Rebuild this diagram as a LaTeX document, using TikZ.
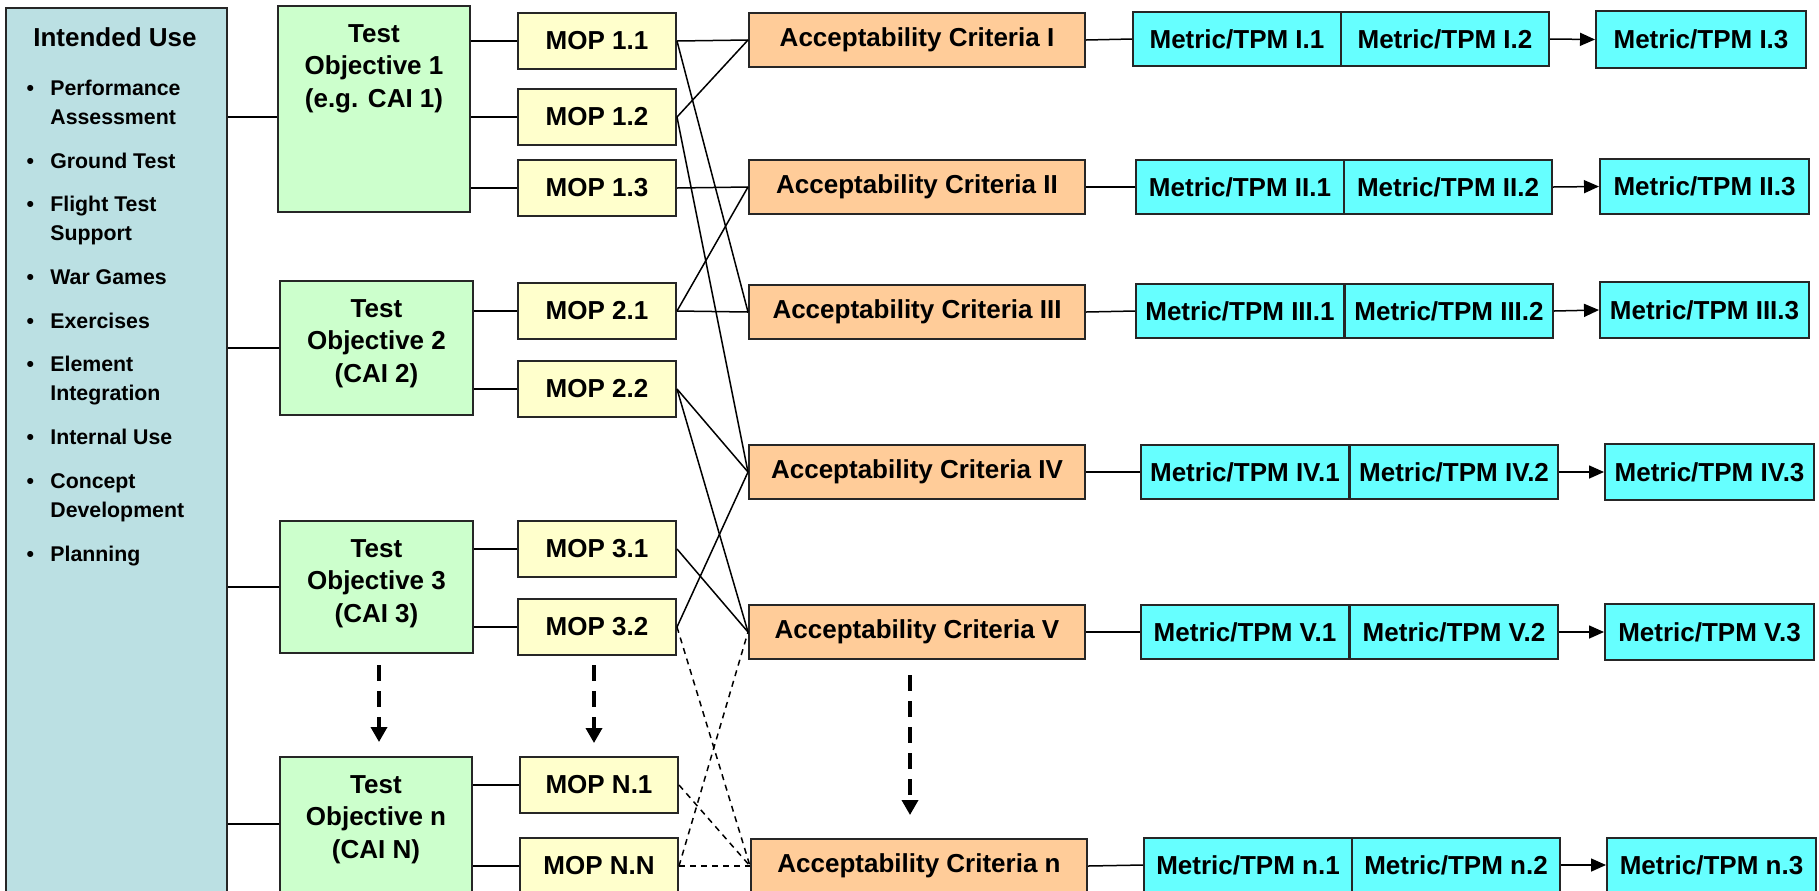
\documentclass[tikz,border=0pt]{standalone}
\usepackage{fontspec}
\setmainfont{Liberation Sans}
\usetikzlibrary{arrows.meta}

\definecolor{iublue}{RGB}{187,224,227}
\definecolor{togreen}{RGB}{204,255,204}
\definecolor{mopyellow}{RGB}{255,255,204}
\definecolor{acorange}{RGB}{255,204,153}
\definecolor{metcyan}{RGB}{102,255,255}

\tikzset{
  cellbox/.style={draw=black!85, line width=1pt, inner sep=0pt, anchor=north west,
    font=\bfseries\fontsize{13}{16.25}\selectfont, align=center},
  iubox/.style={cellbox, fill=iublue},
  tobox/.style={cellbox, fill=togreen},
  mopbox/.style={cellbox, fill=mopyellow, minimum width=79pt, minimum height=28pt},
  acbox/.style={cellbox, fill=acorange, minimum width=168pt, minimum height=27pt},
  metbox/.style={cellbox, fill=metcyan, minimum width=104pt, minimum height=27pt},
  tolabel/.style={anchor=north, yshift=-9.5pt, inner sep=0pt, align=center,
    font=\bfseries\fontsize{13}{16.25}\selectfont},
  % items are placed by the baseline of their last line
  useitem/.style={anchor=base west, inner sep=0pt, align=left,
    font=\bfseries\fontsize{10.65}{14.4}\selectfont},
  conn/.style={line width=0.75pt},
  dconn/.style={line width=0.75pt, dash pattern=on 3pt off 2.5pt},
  flow/.style={line width=0.75pt, -{Triangle[length=7.5pt,width=6.5pt]}},
  skiparrow/.style={line width=1.75pt, dash pattern=on 8pt off 5pt,
    -{Triangle[length=7.5pt,width=8pt]}},
}

\newcommand{\bul}{\llap{\textbullet\hspace{8.2pt}}}

\begin{document}
\begin{tikzpicture}[x=0.5pt,y=-0.5pt]
\useasboundingbox (0,0) rectangle (1819,890);
\clip (0,0) rectangle (1819,890);

% Intended use panel
\node[iubox, minimum width=110.5pt, minimum height=445pt] (iu) at (5,7) {};
\node[font=\bfseries\fontsize{13}{16.25}\selectfont, inner sep=0pt] (iutitle) at (115,37) {Intended Use};
\node[useitem] (u1) at (50,124) {\bul Performance\\Assessment};
\node[useitem] (u2) at (50,168) {\bul Ground Test};
\node[useitem] (u3) at (50,240) {\bul Flight Test\\Support};
\node[useitem] (u4) at (50,284) {\bul War Games};
\node[useitem] (u5) at (50,328) {\bul Exercises};
\node[useitem] (u6) at (50,400) {\bul Element\\Integration};
\node[useitem] (u7) at (50,444) {\bul Internal Use};
\node[useitem] (u8) at (50,517) {\bul Concept\\Development};
\node[useitem] (u9) at (50,561) {\bul Planning};

% Test objectives
\node[tobox, minimum width=96pt, minimum height=103pt,
  label={[tolabel]north:Test\\Objective 1\\(e.g. CAI 1)}] (to1) at (277,5) {};
\node[tobox, minimum width=96.5pt, minimum height=67pt,
  label={[tolabel]north:Test\\Objective 2\\(CAI 2)}] (to2) at (279,280) {};
\node[tobox, minimum width=96.5pt, minimum height=66pt,
  label={[tolabel]north:Test\\Objective 3\\(CAI 3)}] (to3) at (279,520) {};
\node[tobox, minimum width=96pt, minimum height=75pt,
  label={[tolabel]north:Test\\Objective n\\(CAI N)}] (ton) at (279,756) {};

% Measures of performance
\node[mopbox] (mop11) at (517,12) {MOP 1.1};
\node[mopbox] (mop12) at (517,88) {MOP 1.2};
\node[mopbox] (mop13) at (517,159) {MOP 1.3};
\node[mopbox] (mop21) at (517,282) {MOP 2.1};
\node[mopbox] (mop22) at (517,360) {MOP 2.2};
\node[mopbox] (mop31) at (517,520) {MOP 3.1};
\node[mopbox] (mop32) at (517,598) {MOP 3.2};
\node[mopbox] (mopn1) at (519,756) {MOP N.1};
\node[mopbox] (mopnn) at (519,837) {MOP N.N};

% Acceptability criteria
\node[acbox] (ac1) at (748,12) {Acceptability Criteria I};
\node[acbox] (ac2) at (748,159) {Acceptability Criteria II};
\node[acbox] (ac3) at (748,284) {Acceptability Criteria III};
\node[acbox] (ac4) at (748,444) {Acceptability Criteria IV};
\node[acbox] (ac5) at (748,604) {Acceptability Criteria V};
\node[acbox] (acn) at (750,838) {Acceptability Criteria n};

% Metrics / TPMs
\node[metbox] (m11) at (1132,11) {Metric/TPM I.1};
\node[metbox] (m12) at (1340,11) {Metric/TPM I.2};
\node[metbox, minimum width=105pt, minimum height=28.5pt] (m13) at (1595,10) {Metric/TPM I.3};
\node[metbox] (m21) at (1135,159) {Metric/TPM II.1};
\node[metbox] (m22) at (1343,159) {Metric/TPM II.2};
\node[metbox, minimum width=104.5pt, minimum height=27.5pt] (m23) at (1599,158) {Metric/TPM II.3};
\node[metbox] (m31) at (1135,283) {Metric/TPM III.1};
\node[metbox] (m32) at (1344,283) {Metric/TPM III.2};
\node[metbox, minimum width=104.5pt, minimum height=28pt] (m33) at (1599,281) {Metric/TPM III.3};
\node[metbox] (m41) at (1140,444) {Metric/TPM IV.1};
\node[metbox] (m42) at (1349,444) {Metric/TPM IV.2};
\node[metbox, minimum width=104.5pt, minimum height=28pt] (m43) at (1604,443) {Metric/TPM IV.3};
\node[metbox] (m51) at (1140,604) {Metric/TPM V.1};
\node[metbox] (m52) at (1349,604) {Metric/TPM V.2};
\node[metbox, minimum width=104.5pt, minimum height=28pt] (m53) at (1604,603) {Metric/TPM V.3};
\node[metbox] (mn1) at (1143,837) {Metric/TPM n.1};
\node[metbox] (mn2) at (1351,837) {Metric/TPM n.2};
\node[metbox, minimum width=104.5pt] (mn3) at (1606,837) {Metric/TPM n.3};

% Intended use to objectives
\coordinate (tonin) at ([yshift=4pt]ton.west);
\draw[conn] (to1.west |- mop12) -- (iu.east |- mop12);
\draw[conn] (to2.west) -- (iu.east |- to2.west);
\draw[conn] (to3.west) -- (iu.east |- to3.west);
\draw[conn] (tonin) -- (iu.east |- tonin);

% Objectives to MOPs
\foreach \m/\t in {mop11/to1, mop12/to1, mop13/to1, mop21/to2, mop22/to2,
                   mop31/to3, mop32/to3, mopn1/ton, mopnn/ton}
  \draw[conn] (\m.west) -- (\m.west -| \t.east);

% MOPs to acceptability criteria
\foreach \m/\a in {mop11/ac1, mop11/ac3, mop12/ac1, mop12/ac4, mop13/ac2,
                   mop21/ac2, mop21/ac3, mop22/ac4, mop22/ac5, mop31/ac5, mop32/ac4}
  \draw[conn] (\m.east) -- (\a.west);
\foreach \m/\a in {mop32/acn, mopn1/acn, mopnn/acn, mopnn/ac5}
  \draw[dconn] (\m.east) -- (\a.west);

% Criteria to metrics
\foreach \r in {1,2,3,4,5,n}{
  \draw[conn] (ac\r.east) -- (m\r1.west);
  \draw[flow] (m\r2.east) -- (m\r3.west);
}

% Continuation arrows
\draw[skiparrow, shorten <=5.5pt, shorten >=7pt] ([xshift=1.25pt]to3.south) -- ([xshift=1.25pt]to3.south |- ton.north);
\draw[skiparrow, shorten <=4.5pt, shorten >=6.5pt] ([xshift=-1.5pt]mop32.south) -- ([xshift=-1.5pt]mop32.south |- mopn1.north);
\draw[skiparrow, shorten <=7.5pt, shorten >=11.5pt] ([xshift=-3.5pt]ac5.south) -- ([xshift=-3.5pt]ac5.south |- acn.north);
\end{tikzpicture}
\end{document}
